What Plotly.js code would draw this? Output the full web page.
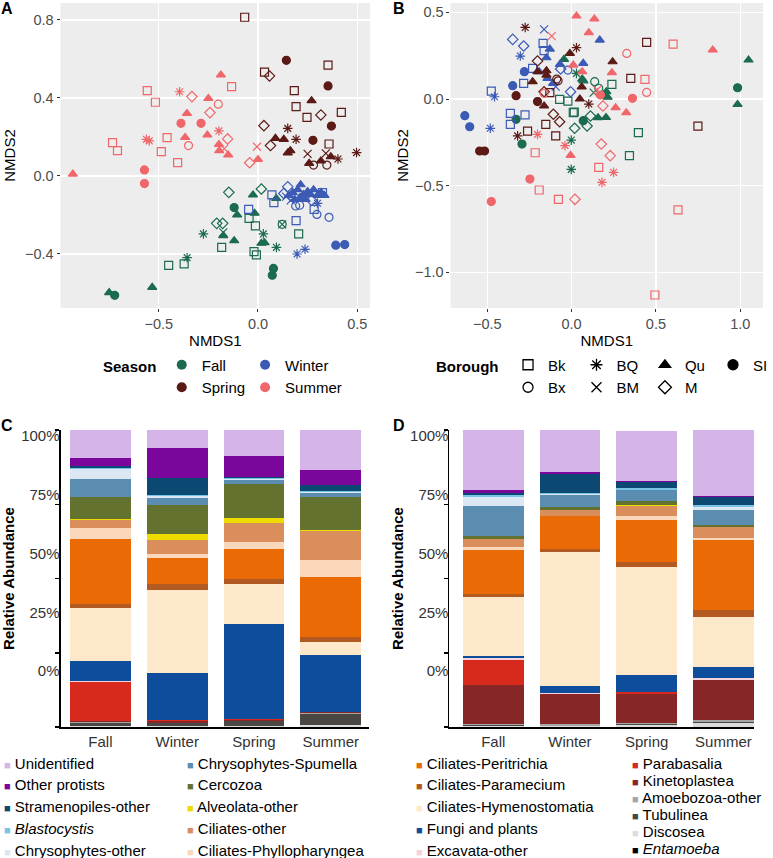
<!DOCTYPE html>
<html>
<head>
<meta charset="utf-8">
<script src="https://cdn.plot.ly/plotly-3.0.1.min.js"></script>
<style>
  html, body { margin: 0; padding: 0; background: #fff; }
  #chart { width: 773px; height: 858px; }
</style>
</head>
<body>
<div id="chart"></div>
<script>
const W = 773, H = 858;
const px = (x) => x / W;       // pixel from left -> paper
const py = (y) => 1 - y / H;   // pixel from top -> paper

const seasons = ['Fall', 'Winter', 'Spring', 'Summer'];
const seasonColors = ['#1b6b4e', '#3b5bb5', '#5b1a15', '#f0676b'];
const boroughs = ['Bk', 'Bx', 'BQ', 'BM', 'Qu', 'M', 'SI'];
const boroughSymbols = ['square-open', 'circle-open', 'asterisk-open', 'x-thin-open', 'triangle-up', 'diamond-open', 'circle'];

// NMDS of season samples (panel A): [NMDS1, NMDS2, borough]
const aFall = [
  [-0.147, -0.084, 'M'], [-0.025, -0.097, 'Qu'], [0.017, -0.067, 'M'], [-0.120, -0.162, 'SI'],
  [-0.105, -0.200, 'Qu'], [-0.208, -0.243, 'M'], [-0.178, -0.243, 'M'], [-0.275, -0.297, 'BQ'],
  [-0.175, -0.306, 'Qu'], [-0.175, -0.289, 'BM'], [-0.120, -0.332, 'Qu'], [-0.183, -0.366, 'Bk'],
  [-0.017, -0.191, 'Qu'], [-0.045, -0.217, 'Bk'], [-0.013, -0.256, 'Bk'], [-0.020, -0.388, 'Bk'],
  [-0.008, -0.405, 'Bk'], [0.027, -0.297, 'BQ'], [0.017, -0.345, 'Qu'], [0.033, -0.342, 'Qu'],
  [0.093, -0.366, 'BQ'], [0.122, -0.248, 'Bx'], [0.122, -0.248, 'BM'], [0.092, -0.115, 'Qu'],
  [0.205, -0.297, 'Bk'], [0.078, -0.474, 'SI'], [0.072, -0.509, 'SI'], [-0.357, -0.419, 'BQ'],
  [-0.372, -0.451, 'Bk'], [-0.450, -0.458, 'Bk'], [-0.533, -0.571, 'Qu'], [-0.750, -0.598, 'Qu'],
  [-0.722, -0.612, 'SI']
];
const aWinter = [
  [0.150, -0.055, 'M'], [0.070, -0.097, 'Bk'], [0.080, -0.137, 'Bk'], [-0.047, -0.171, 'Bk'],
  [0.283, -0.171, 'Bk'], [0.192, -0.229, 'Bk'], [0.325, -0.085, 'Bk'], [0.297, -0.197, 'Bx'],
  [0.358, -0.212, 'Bx'], [0.190, -0.154, 'Bx'], [0.210, -0.150, 'Bx'], [0.197, -0.400, 'BQ'],
  [0.237, -0.376, 'BQ'], [0.300, -0.140, 'BQ'], [0.392, -0.355, 'SI'], [0.437, -0.352, 'SI'],
  [0.142, -0.106, 'BM'], [0.165, -0.125, 'BM'], [0.175, -0.085, 'Qu'], [0.200, -0.070, 'Qu'],
  [0.215, -0.045, 'Qu'], [0.230, -0.095, 'Qu'], [0.250, -0.080, 'Qu'], [0.265, -0.095, 'Qu'],
  [0.280, -0.070, 'Qu'], [0.300, -0.100, 'Qu'], [0.318, -0.085, 'Qu'], [0.335, -0.100, 'Qu'],
  [0.185, -0.120, 'Qu'], [0.240, -0.120, 'Qu'], [0.155, -0.100, 'Qu'], [0.270, -0.125, 'M'],
  [0.130, -0.090, 'M'], [0.220, -0.110, 'SI']
];
const aSpring = [
  [-0.067, 0.814, 'Bk'], [0.033, 0.533, 'Bk'], [0.058, 0.513, 'M'], [0.143, 0.593, 'SI'],
  [0.353, 0.568, 'Bk'], [0.353, 0.462, 'SI'], [0.183, 0.438, 'Bk'], [0.192, 0.356, 'Bk'],
  [0.270, 0.386, 'Qu'], [0.247, 0.301, 'Bk'], [0.317, 0.313, 'M'], [0.420, 0.326, 'Bk'],
  [0.370, 0.256, 'SI'], [0.030, 0.258, 'M'], [0.150, 0.244, 'BQ'], [0.088, 0.193, 'Qu'],
  [0.130, 0.188, 'Qu'], [0.192, 0.188, 'BQ'], [0.063, 0.156, 'M'], [0.277, 0.183, 'SI'],
  [0.358, 0.164, 'Bk'], [0.163, 0.130, 'Qu'], [0.150, 0.118, 'Qu'], [0.250, 0.113, 'BM'],
  [0.258, 0.065, 'Qu'], [0.280, 0.056, 'Bx'], [0.317, 0.077, 'Qu'], [0.347, 0.056, 'Bx'],
  [0.342, 0.116, 'BM'], [0.367, 0.099, 'Qu'], [0.403, 0.087, 'BQ'], [0.497, 0.120, 'BQ']
];
const aSummer = [
  [-0.933, 0.010, 'Qu'], [-0.733, 0.171, 'Bk'], [-0.708, 0.130, 'Bk'], [-0.572, 0.031, 'SI'],
  [-0.572, -0.039, 'SI'], [-0.562, 0.188, 'BQ'], [-0.548, 0.180, 'BQ'], [-0.558, 0.438, 'Bk'],
  [-0.517, 0.378, 'Bk'], [-0.487, 0.125, 'Bk'], [-0.458, 0.197, 'Bk'], [-0.405, 0.068, 'Bk'],
  [-0.395, 0.432, 'BQ'], [-0.388, 0.270, 'SI'], [-0.358, 0.321, 'Qu'], [-0.367, 0.198, 'Qu'],
  [-0.350, 0.156, 'Bx'], [-0.333, 0.407, 'M'], [-0.287, 0.270, 'SI'], [-0.250, 0.398, 'Qu'],
  [-0.242, 0.325, 'M'], [-0.255, 0.210, 'Qu'], [-0.200, 0.368, 'Bx'], [-0.187, 0.518, 'Qu'],
  [-0.197, 0.231, 'BQ'], [-0.197, 0.162, 'Qu'], [-0.195, 0.130, 'Qu'], [-0.153, 0.190, 'M'],
  [-0.150, 0.108, 'Qu'], [-0.170, 0.140, 'BM'], [-0.133, 0.458, 'Bk'], [-0.042, 0.068, 'M'],
  [0.000, 0.085, 'Qu'], [-0.005, 0.150, 'BM']
];

// NMDS of borough samples (panel B)
const bFall = [
  [-0.045, 0.229, 'Qu'], [0.029, 0.148, 'BQ'], [0.063, 0.115, 'Qu'], [0.070, 0.105, 'Qu'],
  [0.137, 0.100, 'Bx'], [0.161, 0.062, 'Bx'], [0.239, 0.085, 'Bk'], [0.206, 0.042, 'Qu'],
  [0.190, 0.023, 'Qu'], [0.214, 0.010, 'Qu'], [0.131, 0.037, 'BM'], [-0.071, -0.002, 'Bk'],
  [-0.022, -0.012, 'Bk'], [0.010, -0.079, 'Bk'], [0.016, -0.075, 'Bk'], [0.069, -0.125, 'SI'],
  [0.092, -0.156, 'M'], [0.112, -0.098, 'M'], [0.018, -0.169, 'M'], [0.157, -0.108, 'Qu'],
  [0.204, -0.106, 'Qu'], [0.396, -0.194, 'Bk'], [0.343, -0.327, 'Bk'], [-0.329, -0.117, 'SI'],
  [-0.294, -0.260, 'SI'], [-0.002, -0.237, 'BQ'], [-0.002, -0.406, 'BQ'], [0.984, 0.065, 'SI'],
  [0.984, -0.031, 'Qu'], [1.049, 0.225, 'Qu']
];
const bWinter = [
  [-0.163, 0.402, 'BM'], [-0.349, 0.344, 'M'], [-0.284, 0.306, 'M'], [-0.304, 0.248, 'BQ'],
  [-0.169, 0.321, 'Bk'], [-0.129, 0.288, 'Qu'], [-0.149, 0.238, 'Qu'], [-0.163, 0.279, 'Bk'],
  [0.167, 0.340, 'Qu'], [0.069, 0.206, 'Qu'], [-0.069, 0.200, 'Qu'], [-0.280, 0.158, 'SI'],
  [-0.231, 0.177, 'Bk'], [-0.065, 0.173, 'M'], [-0.022, 0.167, 'Bx'], [-0.192, 0.158, 'Qu'],
  [-0.143, 0.119, 'Qu'], [-0.284, 0.090, 'Bk'], [-0.349, 0.077, 'SI'], [-0.476, 0.046, 'Bk'],
  [-0.457, 0.013, 'BQ'], [-0.006, 0.042, 'M'], [-0.633, -0.096, 'SI'], [-0.604, -0.160, 'SI'],
  [-0.482, -0.169, 'BQ'], [-0.363, -0.083, 'Bk'], [-0.363, -0.146, 'Bk'], [-0.276, -0.092, 'Bk'],
  [-0.094, 0.071, 'BM'], [-0.110, 0.090, 'Qu']
];
const bSpring = [
  [-0.275, 0.413, 'BQ'], [0.029, 0.296, 'BQ'], [-0.010, 0.263, 'Qu'], [0.445, 0.327, 'Bk'],
  [0.243, 0.215, 'Qu'], [0.351, 0.119, 'Bk'], [-0.202, 0.219, 'M'], [-0.149, 0.163, 'Qu'],
  [-0.202, 0.158, 'Qu'], [-0.231, 0.100, 'Qu'], [-0.149, 0.138, 'Qu'], [-0.088, 0.115, 'Bx'],
  [-0.080, 0.105, 'Bx'], [-0.163, 0.042, 'M'], [-0.129, 0.037, 'Bk'], [-0.329, 0.019, 'SI'],
  [-0.202, -0.015, 'SI'], [-0.163, -0.040, 'Qu'], [0.049, 0.000, 'Qu'], [0.060, 0.070, 'Qu'],
  [0.102, -0.029, 'BQ'], [-0.108, -0.088, 'M'], [-0.071, -0.131, 'M'], [-0.153, -0.146, 'Bk'],
  [-0.261, -0.185, 'Bk'], [-0.320, -0.213, 'BQ'], [-0.094, -0.213, 'Bk'], [-0.545, -0.300, 'SI'],
  [-0.516, -0.300, 'SI'], [0.749, -0.156, 'Bk']
];
const bSummer = [
  [0.029, 0.479, 'Qu'], [0.135, 0.462, 'Qu'], [0.102, 0.383, 'Qu'], [-0.118, 0.363, 'BM'],
  [0.327, 0.263, 'Bx'], [0.602, 0.317, 'Bk'], [0.837, 0.283, 'Qu'], [0.010, 0.196, 'Qu'],
  [0.063, 0.158, 'Qu'], [0.239, 0.152, 'Qu'], [0.435, 0.113, 'Bk'], [0.445, 0.038, 'Bx'],
  [0.361, 0.004, 'SI'], [0.171, 0.023, 'SI'], [0.151, 0.052, 'BM'], [0.261, -0.050, 'Qu'],
  [0.324, -0.079, 'Qu'], [0.186, -0.040, 'M'], [-0.163, 0.033, 'Bx'], [-0.202, -0.204, 'BQ'],
  [-0.216, -0.310, 'Bk'], [-0.039, -0.269, 'BQ'], [-0.006, -0.325, 'Qu'], [0.176, -0.260, 'M'],
  [0.229, -0.327, 'M'], [0.161, -0.394, 'Bk'], [0.249, -0.423, 'BQ'], [0.180, -0.481, 'BQ'],
  [-0.247, -0.462, 'SI'], [-0.192, -0.525, 'Bk'], [-0.078, -0.579, 'Bk'], [0.020, -0.579, 'M'],
  [-0.476, -0.592, 'SI'], [0.631, -0.640, 'Bk'], [0.494, -1.131, 'Bk']
];

// stacked bars: first taxon sits on top of the stack
const taxa = ['Unidentified', 'Other protists', 'Stramenopiles-other', 'Blastocystis', 'Chrysophytes-other',
  'Chrysophytes-Spumella', 'Cercozoa', 'Alveolata-other', 'Ciliates-other', 'Ciliates-Phyllopharyngea',
  'Ciliates-Peritrichia', 'Ciliates-Paramecium', 'Ciliates-Hymenostomatia', 'Fungi and plants', 'Excavata-other',
  'Parabasalia', 'Kinetoplastea', 'Amoebozoa-other', 'Tubulinea', 'Discosea', 'Entamoeba'];
const italicTaxa = ['Blastocystis', 'Entamoeba'];
const taxaColors = ['#d5b4e8', '#7a069b', '#0b4872', '#79c4e6', '#dbe8f4',
  '#5a8db0', '#63722f', '#eedc00', '#d98e5c', '#fbd8bc',
  '#ea6a06', '#b25a22', '#fde9c9', '#0e4d9c', '#f4d4db',
  '#d8291d', '#862626', '#a6a6a6', '#4a4644', '#dddddd', '#000000'];

// relative abundance, rows follow taxa, columns follow seasons
const abundC = [
  [0.093, 0.064, 0.090, 0.140],
  [0.028, 0.102, 0.073, 0.051],
  [0.008, 0.056, 0.003, 0.019],
  [0.003, 0.003, 0.004, 0.006],
  [0.033, 0.007, 0.002, 0.002],
  [0.062, 0.026, 0.015, 0.015],
  [0.071, 0.096, 0.112, 0.109],
  [0.006, 0.020, 0.019, 0.004],
  [0.026, 0.046, 0.063, 0.098],
  [0.036, 0.016, 0.025, 0.056],
  [0.219, 0.087, 0.101, 0.204],
  [0.015, 0.020, 0.017, 0.015],
  [0.179, 0.280, 0.133, 0.045],
  [0.065, 0.158, 0.320, 0.190],
  [0.006, 0.001, 0.001, 0.001],
  [0.131, 0.001, 0.001, 0.001],
  [0.003, 0.006, 0.004, 0.002],
  [0.002, 0.001, 0.001, 0.005],
  [0.012, 0.012, 0.018, 0.037],
  [0.001, 0.001, 0.001, 0.005],
  [0.001, 0.001, 0.001, 0.001]
];
const abundD = [
  [0.200, 0.148, 0.169, 0.225],
  [0.011, 0.007, 0.003, 0.003],
  [0.008, 0.064, 0.021, 0.027],
  [0.005, 0.005, 0.006, 0.006],
  [0.031, 0.002, 0.002, 0.011],
  [0.101, 0.040, 0.035, 0.051],
  [0.010, 0.011, 0.013, 0.005],
  [0.001, 0.001, 0.004, 0.001],
  [0.026, 0.017, 0.036, 0.035],
  [0.009, 0.003, 0.011, 0.010],
  [0.148, 0.110, 0.143, 0.234],
  [0.011, 0.009, 0.015, 0.025],
  [0.200, 0.452, 0.365, 0.166],
  [0.006, 0.025, 0.056, 0.039],
  [0.005, 0.002, 0.002, 0.005],
  [0.087, 0.001, 0.005, 0.001],
  [0.129, 0.101, 0.098, 0.133],
  [0.005, 0.004, 0.005, 0.008],
  [0.002, 0.002, 0.003, 0.003],
  [0.003, 0.002, 0.005, 0.013],
  [0.001, 0.001, 0.001, 0.001]
];
const pctTicks = [0, 0.25, 0.5, 0.75, 1];
const pctLabels = ['0%', '25%', '50%', '75%', '100%'];

// legend columns (ggplot fills the key column by column)
const seasonCols = [['Fall', 'Spring'], ['Winter', 'Summer']];
const seasonColX = [179, 263];
const boroughCols = [['Bk', 'Bx'], ['BQ', 'BM'], ['Qu', 'M'], ['SI']];
const boroughColX = [528, 597, 666, 735];

const symbolOf = {};
boroughs.forEach((b, i) => { symbolOf[b] = boroughSymbols[i]; });

function pointTrace(pts, color, xa, ya) {
  return {
    type: 'scatter', mode: 'markers', xaxis: xa, yaxis: ya, showlegend: false, hoverinfo: 'skip',
    x: pts.map(p => p[0]), y: pts.map(p => p[1]),
    marker: { symbol: pts.map(p => symbolOf[p[2]]), size: 8, color: color, line: { color: color, width: 1.2 } }
  };
}

const data = [];
const aSets = [aFall, aWinter, aSpring, aSummer];
const bSets = [bFall, bWinter, bSpring, bSummer];
aSets.forEach((pts, i) => data.push(pointTrace(pts, seasonColors[i], 'x', 'y')));
bSets.forEach((pts, i) => data.push(pointTrace(pts, seasonColors[i], 'x2', 'y2')));

const legendIds = ['legend', 'legend2', 'legend3', 'legend4', 'legend5', 'legend6'];
const legBase = { orientation: 'v', xanchor: 'left', yanchor: 'middle', bgcolor: 'rgba(0,0,0,0)',
  borderwidth: 0, traceorder: 'normal', font: { size: 15, color: '#000' } };
const legends = {};

seasonCols.forEach((col, c) => {
  const id = legendIds[c];
  legends[id] = { ...legBase, x: px(seasonColX[c] - 16), y: py(376) };
  col.forEach(s => {
    data.push({ type: 'scatter', mode: 'markers', x: [null], y: [null], xaxis: 'x', yaxis: 'y', name: s,
      legend: id, hoverinfo: 'skip',
      marker: { symbol: 'circle', size: 10, color: seasonColors[seasons.indexOf(s)] } });
  });
});
boroughCols.forEach((col, c) => {
  const id = legendIds[c + 2];
  legends[id] = { ...legBase, x: px(boroughColX[c] - 16), y: py(col.length === 2 ? 376 : 365) };
  col.forEach(b => {
    data.push({ type: 'scatter', mode: 'markers', x: [null], y: [null], xaxis: 'x2', yaxis: 'y2', name: b,
      legend: id, hoverinfo: 'skip',
      marker: { symbol: symbolOf[b], size: 10, color: '#000', line: { color: '#000', width: 1.3 } } });
  });
});

// bars, bottom of stack first
for (let k = taxa.length - 1; k >= 0; k--) {
  data.push({ type: 'bar', x: seasons, y: abundC[k], xaxis: 'x3', yaxis: 'y3', name: taxa[k],
    marker: { color: taxaColors[k], line: { width: 0 } }, showlegend: false, hoverinfo: 'skip' });
  data.push({ type: 'bar', x: seasons, y: abundD[k], xaxis: 'x4', yaxis: 'y4', name: taxa[k],
    marker: { color: taxaColors[k], line: { width: 0 } }, showlegend: false, hoverinfo: 'skip' });
}
// empty traces so the percent label axes get drawn
data.push({ type: 'scatter', mode: 'markers', x: seasons, y: [null, null, null, null], xaxis: 'x3', yaxis: 'y5', showlegend: false, hoverinfo: 'skip' });
data.push({ type: 'scatter', mode: 'markers', x: seasons, y: [null, null, null, null], xaxis: 'x4', yaxis: 'y6', showlegend: false, hoverinfo: 'skip' });

const gg = {
  showgrid: true, gridcolor: '#ffffff', gridwidth: 1.3, zeroline: false, showline: false,
  ticks: 'outside', ticklen: 3, tickwidth: 1, tickcolor: '#333333',
  tickfont: { size: 14.5, color: '#4d4d4d' }, tickformat: '.1f'
};
const ttl = (t, standoff) => ({ text: t, font: { size: 15, color: '#000' }, standoff: standoff });

const barX = {
  type: 'category', showline: true, linecolor: '#000', linewidth: 1.6, ticks: '',
  tickfont: { size: 15, color: '#333' }, showgrid: false, zeroline: false
};
const barY = {
  range: [0, 1], tickvals: pctTicks, showticklabels: false, ticks: 'outside', ticklen: 4, tickwidth: 1.5,
  tickcolor: '#000', showline: true, linecolor: '#000', linewidth: 1.6, showgrid: false, zeroline: false
};
// the printed percent labels sit off their tick marks; a second axis carries them
const barLabels = {
  side: 'left', range: [-0.238, 1.026], tickvals: pctTicks, ticktext: pctLabels, ticks: '',
  showline: false, showgrid: false, zeroline: false, tickfont: { size: 15, color: '#333' }
};

// hand-drawn key for the stacked bars (4 columns)
const annotations = [];
const keyCols = [
  { x: 3, start: 0, n: 5, dy: 21.75 },
  { x: 187, start: 5, n: 5, dy: 21.75 },
  { x: 418, start: 10, n: 5, dy: 21.75 },
  { x: 636, start: 15, n: 6, dy: 17 }
];
keyCols.forEach(col => {
  for (let i = 0; i < col.n; i++) {
    const k = col.start + i;
    const name = italicTaxa.includes(taxa[k]) ? '<i>' + taxa[k] + '</i>' : taxa[k];
    annotations.push({ xref: 'paper', yref: 'paper', x: px(col.x), y: py(763 + i * col.dy),
      xanchor: 'left', yanchor: 'middle', showarrow: false, borderpad: 0,
      text: '<span style="color:' + taxaColors[k] + ';font-size:11px">■</span> ' + name,
      font: { size: 15, color: '#000' } });
  }
});
[['A', 7, 8], ['B', 402, 8], ['C', 7, 426], ['D', 402, 426]].forEach(l => {
  annotations.push({ xref: 'paper', yref: 'paper', x: px(l[1]), y: py(l[2]), xanchor: 'center', yanchor: 'middle',
    showarrow: false, text: '<b>' + l[0] + '</b>', font: { size: 16, color: '#000' } });
});
[['Season', 103], ['Borough', 438]].forEach(t => {
  annotations.push({ xref: 'paper', yref: 'paper', x: px(t[1]), y: py(366), xanchor: 'left', yanchor: 'middle',
    showarrow: false, borderpad: 0, text: '<b>' + t[0] + '</b>', font: { size: 15, color: '#000' } });
});

const layout = {
  width: W, height: H,
  margin: { l: 0, r: 0, t: 0, b: 0 },
  paper_bgcolor: '#fff', plot_bgcolor: '#fff',
  font: { family: 'Liberation Sans, Arial, sans-serif', color: '#000' },
  barmode: 'stack', bargap: 0.21,
  xaxis: { ...gg, domain: [px(61), px(373)], range: [-0.995, 0.565], tickvals: [-1, -0.5, 0, 0.5], anchor: 'y', title: ttl('NMDS1', 4) },
  yaxis: { ...gg, domain: [py(308), py(3)], range: [-0.677, 0.887], tickvals: [-0.4, 0, 0.4, 0.8], anchor: 'x', title: ttl('NMDS2', 5) },
  xaxis2: { ...gg, domain: [px(454), px(769)], range: [-0.718, 1.135], tickvals: [-0.5, 0, 0.5, 1], anchor: 'y2', title: ttl('NMDS1', 4) },
  yaxis2: { ...gg, domain: [py(308), py(3)], range: [-1.206, 0.554], tickvals: [-1, -0.5, 0, 0.5], anchor: 'x2', title: ttl('NMDS2', 2) },
  xaxis3: { ...barX, domain: [px(61), px(372)], range: [-0.52, 3.5], anchor: 'y3' },
  yaxis3: { ...barY, domain: [py(727), py(430)], anchor: 'x3', title: ttl('<b>Relative Abundance</b>', 40) },
  xaxis4: { ...barX, domain: [px(453), px(760)], range: [-0.57, 3.4], anchor: 'y4' },
  yaxis4: { ...barY, domain: [py(727), py(430)], anchor: 'x4', title: ttl('<b>Relative Abundance</b>', 36) },
  yaxis5: { ...barLabels, overlaying: 'y3', anchor: 'x3' },
  yaxis6: { ...barLabels, overlaying: 'y4', anchor: 'x4' },
  ...legends,
  shapes: [
    { type: 'rect', xref: 'x domain', yref: 'y domain', x0: 0, x1: 1, y0: 0, y1: 1, fillcolor: '#ededed', line: { width: 0 }, layer: 'below' },
    { type: 'rect', xref: 'x2 domain', yref: 'y2 domain', x0: 0, x1: 1, y0: 0, y1: 1, fillcolor: '#ededed', line: { width: 0 }, layer: 'below' }
  ],
  annotations: annotations
};

Plotly.newPlot('chart', data, layout, { displayModeBar: false, staticPlot: true });
</script>
</body>
</html>
